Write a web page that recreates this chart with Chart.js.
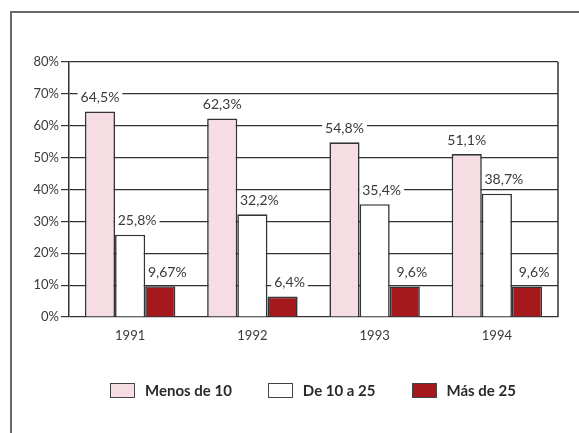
<!DOCTYPE html>
<html>
<head>
<meta charset="utf-8">
<script src="https://cdn.jsdelivr.net/npm/chart.js@4/dist/chart.umd.min.js"></script>
<style>
  html, body { margin: 0; padding: 0; background: #fff; }
  #wrap { position: relative; width: 579px; height: 433px; }
  #legend { position: absolute; left: 110px; top: 381px; display: flex; gap: 36px;
            font: bold 15px Lato, "DejaVu Sans", sans-serif; color: #2a2a2a; }
  #legend span.item { display: flex; align-items: center; }
  #legend span.box { display: inline-block; width: 23px; height: 13px; border: 1.5px solid #444;
                     margin-right: 10px; }
</style>
</head>
<body>
<div id="wrap">
  <canvas id="chart" width="579" height="433"></canvas>
  <div id="legend"></div>
</div>
<script>
// data
const years = ["1991", "1992", "1993", "1994"];
const seriesNames = ["Menos de 10", "De 10 a 25", "Más de 25"];
const menosDe10 = [64.5, 62.3, 54.8, 51.1];
const de10a25 = [25.8, 32.2, 35.4, 38.7];
const masDe25 = [9.67, 6.4, 9.6, 9.6];
const yTicks = [0, 10, 20, 30, 40, 50, 60, 70, 80];

const fills = ["#f6dde3", "#ffffff", "#a5191d"];
const labelShift = [0, 7, 7];

const fmt = v => String(v).replace(".", ",") + "%";
const fontFam = "Lato, 'DejaVu Sans', sans-serif";

// outer frame (top + left rule) and right edge of the plot
const framePlugin = {
  id: "frame",
  beforeDraw(chart){
    const c = chart.ctx;
    c.save();
    c.strokeStyle = "#6a6a6a";
    c.lineWidth = 2;
    c.beginPath();
    c.moveTo(11, 433); c.lineTo(11, 12); c.lineTo(579, 12);
    c.stroke();
    c.restore();
  },
  afterDraw(chart){
    const a = chart.chartArea, c = chart.ctx;
    c.save();
    c.strokeStyle = "#333";
    c.lineWidth = 1.5;
    c.beginPath();
    c.moveTo(a.right, a.top); c.lineTo(a.right, a.bottom);
    c.stroke();
    c.restore();
  }
};

// value labels above bars, with white background that cuts the grid lines
function labelSpots(chart){
  const out = [];
  chart.data.datasets.forEach((ds, i) => {
    chart.getDatasetMeta(i).data.forEach((bar, j) => {
      out.push({ x: bar.x + labelShift[i], y: bar.y - 14, text: fmt(ds.data[j]) });
    });
  });
  return out;
}
const labelPlugin = {
  id: "vlabels",
  beforeDatasetsDraw(chart){
    const c = chart.ctx;
    c.save();
    c.font = "14px " + fontFam;
    c.fillStyle = "#fff";
    labelSpots(chart).forEach(l => {
      const w = c.measureText(l.text).width;
      c.fillRect(l.x - w/2 - 3, l.y - 8, w + 6, 16);
    });
    c.restore();
  },
  afterDatasetsDraw(chart){
    const c = chart.ctx;
    c.save();
    c.font = "14px " + fontFam;
    c.fillStyle = "#3a3a3a";
    c.textAlign = "center";
    c.textBaseline = "middle";
    labelSpots(chart).forEach(l => c.fillText(l.text, l.x, l.y));
    c.restore();
  }
};

const seriesData = [menosDe10, de10a25, masDe25];

new Chart(document.getElementById("chart"), {
  type: "bar",
  data: {
    labels: years,
    datasets: seriesNames.map((name, i) => ({
      label: name,
      data: seriesData[i],
      backgroundColor: fills[i],
      borderColor: "#333",
      borderWidth: 1.6,
      categoryPercentage: 0.74,
      barPercentage: 1
    }))
  },
  options: {
    responsive: false,
    animation: false,
    layout: { padding: { left: 20, right: 21, top: 62, bottom: 76 } },
    plugins: { legend: { display: false }, tooltip: { enabled: false } },
    scales: {
      x: {
        grid: { display: false },
        border: { display: false },
        ticks: { color: "#3a3a3a", font: { family: fontFam, size: 13 }, padding: 3 },
        afterFit: s => { s.height = 40; }
      },
      y: {
        min: 0, max: 80,
        afterBuildTicks: s => { s.ticks = yTicks.map(v => ({ value: v })); },
        ticks: { color: "#3a3a3a", font: { family: fontFam, size: 13 }, padding: 2,
                 callback: v => v + "%" },
        grid: { color: "#333", lineWidth: 1.2, tickLength: 8, drawTicks: true },
        border: { display: true, color: "#333", width: 1.5 },
        afterFit: s => { s.width = 49; }
      }
    }
  },
  plugins: [framePlugin, labelPlugin]
});

// legend built from the same series names / colours
const lg = document.getElementById("legend");
seriesNames.forEach((name, i) => {
  const it = document.createElement("span");
  it.className = "item";
  const b = document.createElement("span");
  b.className = "box";
  b.style.background = fills[i];
  it.appendChild(b);
  it.appendChild(document.createTextNode(name));
  lg.appendChild(it);
});
</script>
</body>
</html>
